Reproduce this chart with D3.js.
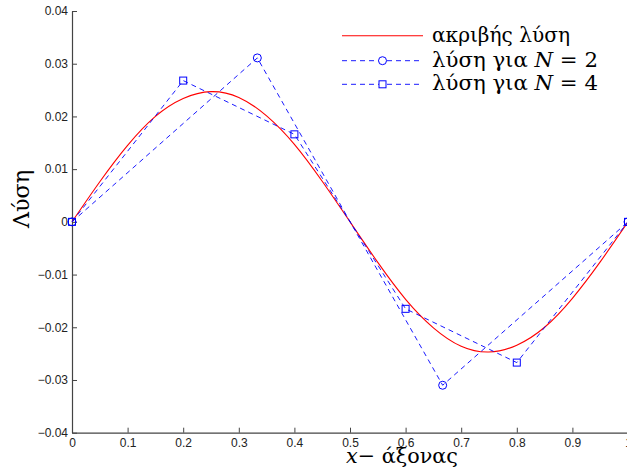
<!DOCTYPE html>
<html>
<head>
<meta charset="utf-8">
<script src="https://cdn.jsdelivr.net/npm/d3@7/dist/d3.min.js"></script>
<style>
  html, body { margin: 0; padding: 0; background: #fff; }
  svg { display: block; }
</style>
</head>
<body>
<svg id="chart" width="627" height="469"></svg>
<script>
// ---- data ----
const exactX = [0, 0.05, 0.1, 0.15, 0.2, 0.25, 0.3, 0.35, 0.4, 0.45, 0.5,
                0.55, 0.6, 0.65, 0.7, 0.75, 0.8, 0.85, 0.9, 0.95, 1];
const exactY = [0, 0.0076, 0.0145, 0.0200, 0.0234, 0.0247, 0.0236, 0.0201, 0.0147, 0.0077, 0,
                -0.0077, -0.0147, -0.0201, -0.0236, -0.0247, -0.0234, -0.0200, -0.0145, -0.0076, 0];
const n2X = [0, 1/3, 2/3, 1];
const n2Y = [0, 0.0311, -0.0310, 0];
const n4X = [0, 0.2, 0.4, 0.6, 0.8, 1];
const n4Y = [0, 0.0268, 0.0166, -0.0165, -0.0267, 0];
const xTicks = [0, 0.1, 0.2, 0.3, 0.4, 0.5, 0.6, 0.7, 0.8, 0.9, 1];
const xTickLabels = ["0", "0.1", "0.2", "0.3", "0.4", "0.5", "0.6", "0.7", "0.8", "0.9", "1"];
const yTicks = [-0.04, -0.03, -0.02, -0.01, 0, 0.01, 0.02, 0.03, 0.04];
const yTickLabels = ["\u22120.04", "\u22120.03", "\u22120.02", "\u22120.01", "0", "0.01", "0.02", "0.03", "0.04"];
const legendLabels = ["ακριβής λύση", "λύση για N = 2", "λύση για N = 4"];

// ---- layout ----
const svg = d3.select("#chart");
const x = d3.scaleLinear().domain([0, 1]).range([72, 628]);
const y = d3.scaleLinear().domain([-0.04, 0.04]).range([432.7, 11]);
const axisColor = "#444";
const blue = "#0000ff";
const red = "#ff0000";
const serif = "'DejaVu Serif', 'Liberation Serif', serif";

function fitFont(t, target) {
  const w = t.node().getComputedTextLength();
  const fs = parseFloat(t.style("font-size"));
  if (w > 0) t.style("font-size", (fs * target / w).toFixed(2) + "px");
}

// axes
const gx = svg.append("g").attr("transform", `translate(0,${y(-0.04)})`)
  .call(d3.axisBottom(x).tickValues(xTicks).tickSizeInner(-5).tickSizeOuter(0)
        .tickPadding(8).tickFormat((d, i) => xTickLabels[i]));
const gy = svg.append("g").attr("transform", `translate(${x(0)},0)`)
  .call(d3.axisLeft(y).tickValues(yTicks).tickSizeInner(-5).tickSizeOuter(0)
        .tickPadding(4).tickFormat((d, i) => yTickLabels[i]));
[gx, gy].forEach(g => {
  g.select(".domain").attr("stroke", axisColor).attr("stroke-width", 1.2);
  g.selectAll(".tick line").attr("stroke", axisColor).attr("stroke-width", 1);
  g.selectAll(".tick text").attr("fill", "#222")
    .style("font-family", "'Liberation Sans', Arial, sans-serif").style("font-size", "12px");
});
gx.selectAll(".tick text").attr("dy", "0.5em");

// lines
const line = d3.line().x(d => x(d[0])).y(d => y(d[1]));
const exactPts = exactX.map((v, i) => [v, exactY[i]]);
const n2Pts = n2X.map((v, i) => [v, n2Y[i]]);
const n4Pts = n4X.map((v, i) => [v, n4Y[i]]);

svg.append("path").attr("d", line.curve(d3.curveNatural)(exactPts))
  .attr("fill", "none").attr("stroke", red).attr("stroke-width", 1.1);
line.curve(d3.curveLinear);
svg.append("path").attr("d", line(n2Pts))
  .attr("fill", "none").attr("stroke", blue).attr("stroke-width", 0.9).attr("stroke-dasharray", "5,4");
svg.append("path").attr("d", line(n4Pts))
  .attr("fill", "none").attr("stroke", blue).attr("stroke-width", 0.9).attr("stroke-dasharray", "5,4");

svg.selectAll("circle.n2").data(n2Pts).enter().append("circle")
  .attr("cx", d => x(d[0])).attr("cy", d => y(d[1])).attr("r", 4)
  .attr("fill", "none").attr("stroke", blue).attr("stroke-width", 1);
svg.selectAll("rect.n4").data(n4Pts).enter().append("rect")
  .attr("x", d => x(d[0]) - 3.5).attr("y", d => y(d[1]) - 3.5)
  .attr("width", 7).attr("height", 7)
  .attr("fill", "none").attr("stroke", blue).attr("stroke-width", 1);

// legend
const legRows = [35.7, 60.7, 84.3];
const legWidths = [138, 166, 166];
const lx0 = 342, lx1 = 423, lxm = 382.5, ltx = 432;
svg.append("line").attr("x1", lx0).attr("x2", lx1).attr("y1", legRows[0]).attr("y2", legRows[0])
  .attr("stroke", red).attr("stroke-width", 1.1);
[1, 2].forEach(k => {
  svg.append("line").attr("x1", lx0).attr("x2", lx1).attr("y1", legRows[k]).attr("y2", legRows[k])
    .attr("stroke", blue).attr("stroke-width", 0.9).attr("stroke-dasharray", "5,4");
});
svg.append("circle").attr("cx", lxm).attr("cy", legRows[1]).attr("r", 4)
  .attr("fill", "#fff").attr("stroke", blue).attr("stroke-width", 1);
svg.append("rect").attr("x", lxm - 3.5).attr("y", legRows[2] - 3.5).attr("width", 7).attr("height", 7)
  .attr("fill", "#fff").attr("stroke", blue).attr("stroke-width", 1);

function legText(yy, label, w) {
  const t = svg.append("text").attr("x", ltx).attr("y", yy + 6)
    .style("font-family", serif).style("font-size", "20px").attr("fill", "#000");
  const m = label.match(/^(.*)N(.*)$/);
  if (m) {
    t.append("tspan").text(m[1]);
    t.append("tspan").text("N").style("font-style", "italic");
    t.append("tspan").text(m[2]);
  } else {
    t.text(label);
  }
  fitFont(t, w);
}
legendLabels.forEach((l, i) => legText(legRows[i], l, legWidths[i]));

// axis labels
const yl = svg.append("text").attr("transform", "translate(29,199) rotate(-90)")
  .attr("text-anchor", "middle")
  .style("font-family", serif).style("font-size", "20px").text("Λύση");
fitFont(yl, 58);
const xl = svg.append("text").attr("x", 346).attr("y", 463)
  .style("font-family", serif).style("font-size", "20px");
xl.append("tspan").text("x").style("font-style", "italic");
xl.append("tspan").text("\u2212 άξονας");
fitFont(xl, 112);
</script>
</body>
</html>
